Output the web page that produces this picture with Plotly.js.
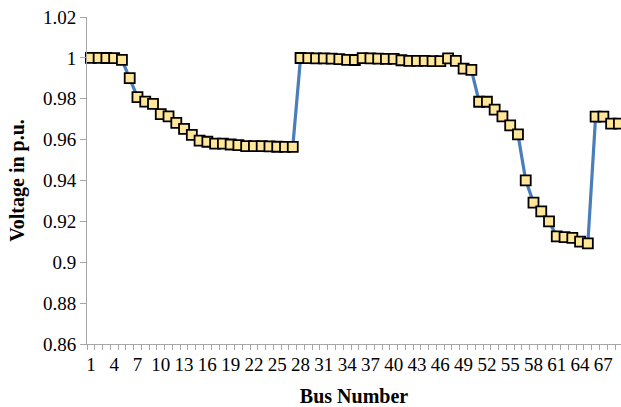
<!DOCTYPE html>
<html><head><meta charset="utf-8">
<script src="https://cdn.plot.ly/plotly-3.0.1.min.js"></script>
<style>html,body{margin:0;padding:0;background:#fff}#c{width:621px;height:407px}</style>
</head><body><div id="c"></div>
<script>
var buses = [];
for (var i = 1; i <= 69; i++) buses.push(i);
var voltages = [
1.0000,0.99997,0.99993,0.99984,0.99902,0.99009,0.98079,0.97858,0.97745,0.97245,
0.97135,0.96819,0.96527,0.96237,0.95950,0.95897,0.95809,0.95808,0.95761,0.95732,
0.95684,0.95683,0.95678,0.95665,0.95652,0.95646,0.95644,0.99993,0.99985,0.99973,
0.99971,0.99961,0.99935,0.99901,0.99895,0.99992,0.99975,0.99959,0.99954,0.99954,
0.99884,0.99855,0.99851,0.99850,0.99841,0.99840,0.99979,0.99854,0.99470,0.99415,
0.97854,0.97853,0.97465,0.97141,0.96693,0.96256,0.94011,0.92917,0.92494,0.91997,
0.91262,0.91234,0.91196,0.91012,0.90919,0.97129,0.97129,0.96786,0.96786];
var tickVals = [1,4,7,10,13,16,19,22,25,28,31,34,37,40,43,46,49,52,55,58,61,64,67];
var tickText = tickVals.map(String);

var font = "Liberation Serif, Times New Roman, serif";
Plotly.newPlot('c', [{
  x: buses, y: voltages, type: 'scatter', mode: 'lines+markers',
  line: {color: '#4A7EBB', width: 3.2},
  marker: {symbol: 'square', size: 10, color: '#FFE699', line: {color: '#000', width: 1.8}},
  cliponaxis: false
}], {
  width: 621, height: 407,
  margin: {l: 87, r: 0, t: 17, b: 63},
  paper_bgcolor: '#fff', plot_bgcolor: '#fff',
  showlegend: false,
  font: {family: font, size: 19, color: '#000'},
  xaxis: {
    range: [0.5, 69.27], tickmode: 'array', tickvals: tickVals, ticktext: tickText,
    ticks: '', showgrid: false, zeroline: false,
    showline: true, linecolor: '#A6A6A6', linewidth: 1,
    ticklabelstandoff: 3,
    minor: {tick0: 0.5, dtick: 1, ticks: 'outside', ticklen: 5, tickcolor: '#A6A6A6', showgrid: false},
    tickfont: {family: font, size: 19},
    title: {text: '<b>Bus Number</b>', font: {family: font, size: 20}, standoff: 17}
  },
  yaxis: {
    range: [0.86, 1.02], dtick: 0.02, tick0: 0.86,
    ticks: 'outside', ticklen: 6, tickcolor: '#A6A6A6',
    showgrid: false, zeroline: false,
    showline: true, linecolor: '#A6A6A6', linewidth: 1,
    tickfont: {family: font, size: 19},
    title: {text: '<b>Voltage in p.u.</b>', font: {family: font, size: 20}, standoff: 12}
  }
}, {displayModeBar: false, staticPlot: true});
</script></body></html>
